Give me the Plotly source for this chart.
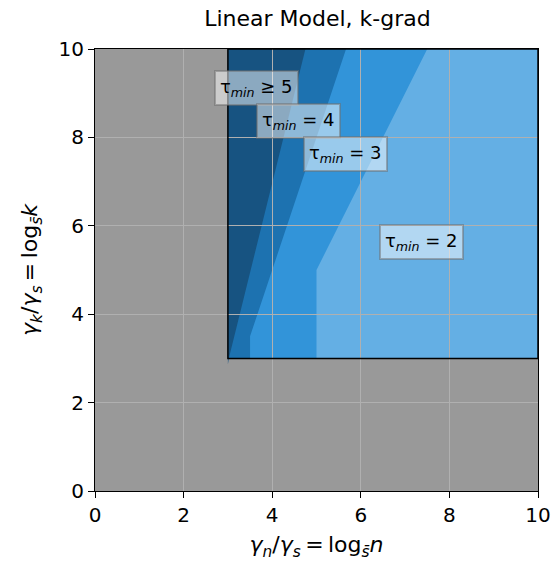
import plotly.graph_objects as go

# Region outlines in (log_s n, log_s k) coordinates
feasible_x = [3, 10, 10, 3]
feasible_y = [3, 3, 10, 10]

tau3_x = [3, 5, 5, 7.5, 3]
tau3_y = [3, 3, 5, 10, 10]

tau4_x = [3, 3.5, 3.5, 5.667, 3]
tau4_y = [3, 3, 3.5, 10, 10]

tau5_x = [3, 3, 4.75, 3.02]
tau5_y = [2.86, 10, 10, 3]

region_colors = ["#64afe4", "#3294d9", "#1d72b0", "#175381"]

label_text = ["τ<sub><i>min</i></sub> ≥ 5", "τ<sub><i>min</i></sub> = 4",
              "τ<sub><i>min</i></sub> = 3", "τ<sub><i>min</i></sub> = 2"]
label_x = [3.64, 4.59, 5.66, 7.38]
label_y = [9.12, 8.37, 7.62, 5.63]


def path_of(xs, ys):
    pts = " L ".join(f"{x},{y}" for x, y in zip(xs, ys))
    return f"M {pts} Z"


fig = go.Figure()
# invisible trace so the axes exist
fig.add_trace(go.Scatter(x=[0, 10], y=[0, 10], mode="markers",
                         marker=dict(opacity=0), hoverinfo="skip",
                         showlegend=False))

shapes = []
for (xs, ys), col in zip([(feasible_x, feasible_y), (tau3_x, tau3_y),
                          (tau4_x, tau4_y), (tau5_x, tau5_y)], region_colors):
    shapes.append(dict(type="path", path=path_of(xs, ys), xref="x", yref="y",
                       fillcolor=col, line=dict(width=0), layer="below"))
# outline of the feasible region
shapes.append(dict(type="path", path=path_of(feasible_x, feasible_y),
                   xref="x", yref="y", fillcolor="rgba(0,0,0,0)",
                   line=dict(color="black", width=1.5), layer="above"))

annotations = []
for t, x, y in zip(label_text, label_x, label_y):
    annotations.append(dict(x=x, y=y, xref="x", yref="y", text=t,
                            showarrow=False,
                            font=dict(family="DejaVu Sans", size=18, color="black"),
                            bgcolor="rgba(255,255,255,0.5)",
                            bordercolor="rgba(110,110,110,0.5)",
                            borderwidth=2, borderpad=4))

axis_common = dict(range=[0, 10], tickvals=[0, 2, 4, 6, 8, 10],
                   showgrid=True, gridcolor="#b0b0b0", gridwidth=1,
                   zeroline=False, showline=True, linecolor="black",
                   linewidth=1.2, mirror=True, ticks="outside", ticklen=6,
                   tickwidth=1.2, tickcolor="black", automargin=False,
                   tickfont=dict(family="DejaVu Sans", size=20, color="black"))

label_font = dict(family="DejaVu Sans", size=22, color="black")

fig.update_layout(
    width=554, height=568,
    margin=dict(l=95, r=16, t=49, b=77),
    paper_bgcolor="white", plot_bgcolor="#999999",
    title=dict(text="Linear Model, k-grad", x=0.573, xanchor="center",
               y=0.968, yanchor="middle",
               font=dict(family="DejaVu Sans", size=22, color="black")),
    xaxis=dict(**axis_common,
               title=dict(text="<i>γ<sub>n</sub></i>/<i>γ<sub>s</sub></i>\u2009=\u2009log<sub><i>s̄</i></sub><i>n</i>",
                          font=label_font, standoff=10)),
    yaxis=dict(**axis_common,
               title=dict(text="<i>γ<sub>k</sub></i>/<i>γ<sub>s</sub></i>\u2009=\u2009log<sub><i>s̄</i></sub><i>k</i>",
                          font=label_font, standoff=14)),
    shapes=shapes,
    annotations=annotations,
)

fig.write_html("out.html")
